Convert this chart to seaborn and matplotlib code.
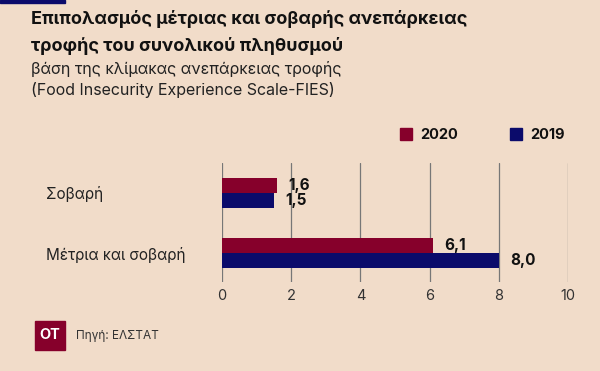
import pandas as pd
import matplotlib.pyplot as plt
import seaborn as sns
from matplotlib.patches import Rectangle

# -------------------------------
# Data
# -------------------------------
categories = ["Σοβαρή", "Μέτρια και σοβαρή"]
years = ["2020", "2019"]
values_2020 = [1.6, 6.1]
values_2019 = [1.5, 8.0]
x_ticks = [0, 2, 4, 6, 8, 10]

df = pd.DataFrame({
    "category": categories * 2,
    "year": [years[0]] * 2 + [years[1]] * 2,
    "value": values_2020 + values_2019,
})

# -------------------------------
# Setup
# -------------------------------
sns.set_style("white")
plt.rcParams["font.family"] = ["Inter", "DejaVu Sans"]

bg = "#f1dcc9"
red = "#86002b"
navy = "#0b0b6b"

fig = plt.figure(figsize=(6, 3.71), dpi=100, facecolor=bg)
ax = fig.add_axes([0.37, 0.24, 0.577, 0.321])
ax.set_facecolor(bg)

sns.barplot(data=df, y="category", x="value", hue="year", order=categories,
            hue_order=years, palette=[red, navy], width=0.5, gap=0,
            orient="h", ax=ax, legend=False, saturation=1, linewidth=0)

ax.set_xlim(0, 10)
ax.set_ylim(1.48, -0.5)
ax.set_xticks(x_ticks)
ax.set_xticklabels([str(t) for t in x_ticks], fontsize=10.5, color="#333333")
ax.set_xlabel("")
ax.set_ylabel("")
ax.grid(axis="x", color="#777777", linewidth=0.9)
ax.set_axisbelow(True)
for s in ax.spines.values():
    s.set_visible(False)
ax.tick_params(axis="x", length=0, pad=5)
ax.tick_params(axis="y", length=0, pad=127)
for lbl in ax.get_yticklabels():
    lbl.set_ha("left")
    lbl.set_fontsize(11)
    lbl.set_color("#222222")

# value labels
for cont in ax.containers:
    labels = [f"{v:.1f}".replace(".", ",") for v in cont.datavalues]
    ax.bar_label(cont, labels=labels, padding=8, fontsize=11,
                 fontweight="bold", color="#111111")

# legend
for x0, lab, col in [(0.667, "2020", red), (0.85, "2019", navy)]:
    fig.patches.append(Rectangle((x0, 0.622), 0.02, 0.032, color=col,
                                 transform=fig.transFigure))
    fig.text(x0 + 0.033, 0.636, lab, fontsize=10.5, fontweight="bold",
             va="center", color="#111111")

# title block
fig.patches.append(Rectangle((0, 0.993), 0.108, 0.007, color=navy,
                             transform=fig.transFigure))
fig.text(0.052, 0.948, "Επιπολασμός μέτριας και σοβαρής ανεπάρκειας",
         fontsize=13, fontweight="bold", va="center", color="#111111")
fig.text(0.052, 0.876, "τροφής του συνολικού πληθυσμού",
         fontsize=13, fontweight="bold", va="center", color="#111111")
fig.text(0.052, 0.815, "βάση της κλίμακας ανεπάρκειας τροφής",
         fontsize=11.5, va="center", color="#222222")
fig.text(0.052, 0.757, "(Food Insecurity Experience Scale-FIES)",
         fontsize=11.5, va="center", color="#222222")

# footer
fig.patches.append(Rectangle((0.058, 0.057), 0.05, 0.079, color=red,
                             transform=fig.transFigure))
fig.text(0.083, 0.097, "ΟΤ", fontsize=10.5, fontweight="bold", color="white",
         ha="center", va="center")
fig.text(0.127, 0.093, "Πηγή: ΕΛΣΤΑΤ", fontsize=8.5, color="#333333",
         va="center")

plt.savefig("out.png", dpi=100, facecolor=bg)
plt.close()
